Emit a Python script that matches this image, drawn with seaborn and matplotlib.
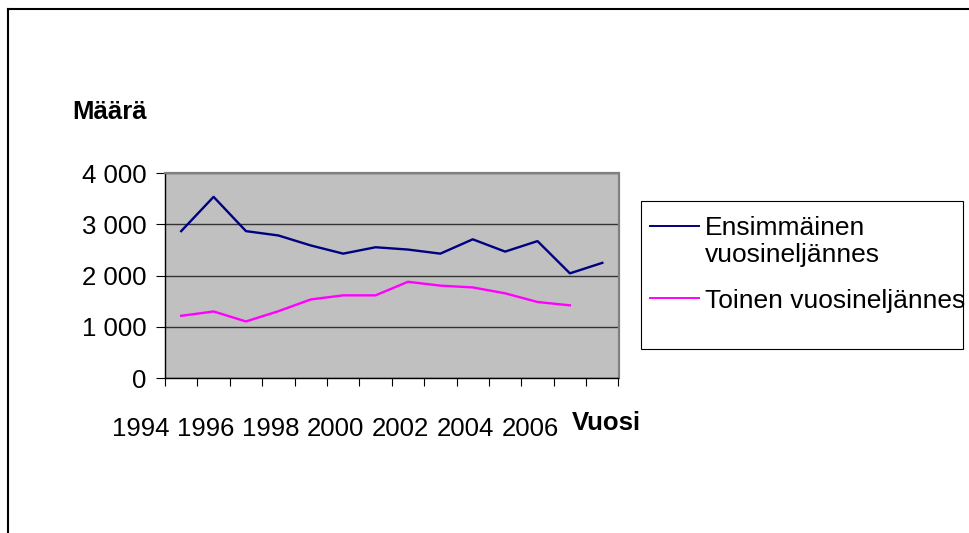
import matplotlib
matplotlib.use("Agg")
import matplotlib.pyplot as plt
import matplotlib.transforms as mtransforms
from matplotlib.lines import Line2D
from matplotlib.patches import Rectangle
from matplotlib.ticker import FuncFormatter
import pandas as pd
import seaborn as sns

# Data
years = [1994, 1995, 1996, 1997, 1998, 1999, 2000,
         2001, 2002, 2003, 2004, 2005, 2006, 2007]
q1 = [2870, 3540, 2870, 2785, 2590, 2430, 2555,
      2510, 2430, 2710, 2470, 2675, 2045, 2250]
q2 = [1215, 1300, 1105, 1305, 1535, 1615, 1615,
      1880, 1805, 1770, 1655, 1485, 1420]
series_names = ["Ensimmäinen vuosineljännes", "Toinen vuosineljännes"]
colors = ["#000080", "#FF00FF"]
y_ticks = [0, 1000, 2000, 3000, 4000]

df = pd.concat([
    pd.DataFrame({"year": years, "value": q1, "series": series_names[0]}),
    pd.DataFrame({"year": years[:len(q2)], "value": q2, "series": series_names[1]}),
])

plt.rcParams["font.family"] = ["Liberation Sans", "DejaVu Sans"]
FS = 18.5
W, H = 969, 533


def fx(x):
    return x / W


def fy(y):
    return 1 - y / H


fig = plt.figure(figsize=(W / 100, H / 100), dpi=100)
ax = fig.add_axes([fx(165), fy(378), (618.5 - 165) / W, (378 - 173.3) / H])
ax.set_facecolor("#C0C0C0")

sns.lineplot(data=df, x="year", y="value", hue="series",
             hue_order=series_names, palette=colors, linewidth=1.7,
             legend=False, ax=ax)

ax.set_xlim(years[0] - 0.5, years[-1] + 0.5)
ax.set_ylim(0, 4000)
ax.set_xlabel("")
ax.set_ylabel("")

# y axis
ax.set_yticks(y_ticks)
ax.yaxis.set_major_formatter(FuncFormatter(lambda v, p: f"{v:,.0f}".replace(",", " ")))
ax.tick_params(axis="y", direction="out", length=6.5, width=0.8, pad=7,
               labelsize=FS, color="black")
ax.yaxis.grid(True, color="#333333", linewidth=1.0)
ax.set_axisbelow(True)

# x axis: tick marks at category boundaries, labels every second year
ax.set_xticks([y - 0.5 for y in years] + [years[-1] + 0.5], minor=True)
ax.set_xticks(years[::2])
ax.set_xticklabels([str(y) for y in years[::2]])
ax.tick_params(axis="x", which="minor", direction="out", length=5.5, width=0.8, color="black")
ax.tick_params(axis="x", which="major", length=0, pad=28, labelsize=FS)
shift = mtransforms.ScaledTranslation(-40 / 100, 0, fig.dpi_scale_trans)
for lab in ax.get_xticklabels():
    lab.set_transform(lab.get_transform() + shift)

for side in ["left", "bottom"]:
    ax.spines[side].set_color("black")
    ax.spines[side].set_linewidth(1.0)
for side in ["top", "right"]:
    ax.spines[side].set_color("#808080")
    ax.spines[side].set_linewidth(1.6)

# axis titles
fig.text(fx(72), fy(119), "Määrä", fontsize=FS, fontweight="bold", va="baseline")
fig.text(fx(572), fy(430), "Vuosi", fontsize=FS, fontweight="bold", va="baseline")

# legend box
fig.add_artist(Rectangle((fx(641), fy(349)), (963 - 641) / W, (349 - 201) / H,
                         transform=fig.transFigure, facecolor="white",
                         edgecolor="black", linewidth=0.8, zorder=1))
first, second = series_names[0].split(" ")
fig.add_artist(Line2D([fx(650), fx(699)], [fy(226), fy(226)], color=colors[0], lw=1.4))
fig.add_artist(Line2D([fx(650), fx(699)], [fy(298), fy(298)], color=colors[1], lw=1.4))
LFS = 19
fig.text(fx(705), fy(235), first, fontsize=LFS, va="baseline", zorder=3)
fig.text(fx(705), fy(262), second, fontsize=LFS, va="baseline", zorder=3)
fig.text(fx(705), fy(308), series_names[1], fontsize=LFS, va="baseline", zorder=3)

# outer chart frame (top and left edges visible)
fig.add_artist(Line2D([fx(8), fx(8)], [0, fy(9)], color="black", lw=1.5))
fig.add_artist(Line2D([fx(8), 1], [fy(9), fy(9)], color="black", lw=1.5))

fig.savefig("out.png", dpi=100)
